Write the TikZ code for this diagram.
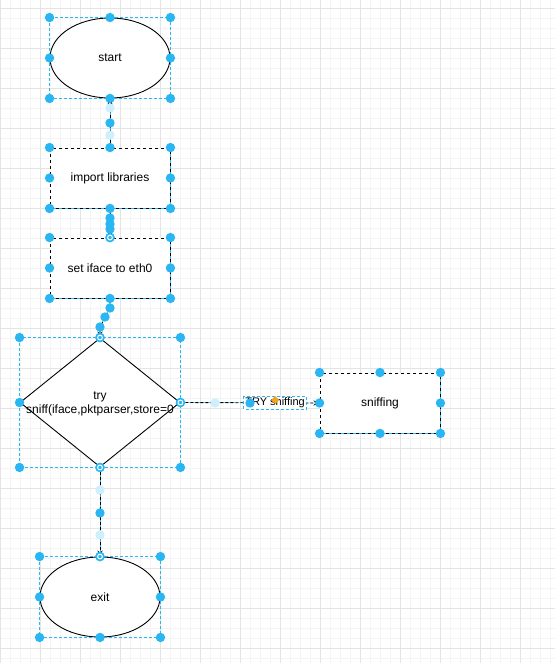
\documentclass[tikz,border=0pt]{standalone}
\usepackage{fontspec}
\setmainfont{Liberation Sans}
\usetikzlibrary{shapes.geometric,arrows.meta}

\definecolor{selblue}{HTML}{29B6F2}
\definecolor{gridminor}{HTML}{F4F4F4}
\definecolor{gridmajor}{HTML}{E4E4E4}
\definecolor{labelmark}{HTML}{F7A21B}

\tikzset{
  term/.style={ellipse, draw=black, fill=white, line width=0.9pt, inner sep=0pt,
    minimum width=120pt, minimum height=80pt, font=\fontsize{12}{14}\selectfont},
  proc/.style={rectangle, draw=black, fill=white, line width=0.9pt, inner sep=0pt,
    minimum width=120pt, minimum height=60pt, dash pattern=on 3pt off 3pt,
    preaction={draw=selblue, solid}, font=\fontsize{12}{14}\selectfont},
  decision/.style={diamond, draw=black, fill=white, line width=0.9pt, inner sep=0pt,
    minimum width=160pt, minimum height=129pt},
  link/.style={draw=black, line width=0.9pt, dash pattern=on 3pt off 2pt,
    preaction={draw=selblue, solid}},
  edgelabel/.style={fill=white, inner sep=1pt, font=\fontsize{11}{13}\selectfont},
  selbox/.style={draw=selblue, line width=0.8pt, dash pattern=on 3pt off 2pt},
  handle/.style={fill=selblue},
  ghost/.style={fill=selblue!22},
}

% blue handles round a selected shape
\newcommand{\selhandles}[1]{%
  \foreach \v in {north,south}{\foreach \h in {west,east}{\fill[handle] (#1.\v -| #1.\h) circle (4.7pt);}}
  \foreach \s in {north,south,east,west}{\fill[handle] (#1.\s) circle (4.7pt);}
}
\newcommand{\ringdot}[1]{%
  \fill[handle] #1 circle (4.7pt);
  \draw[white, line width=1pt] #1 circle (2.4pt);
}

\begin{document}
\begin{tikzpicture}[x=1pt, y=-1pt]

    \useasboundingbox (0,0) rectangle (555,663);

    % grid
    \foreach \x in {0,10,...,550} \draw[gridminor, line width=0.8pt] (\x,0) -- (\x,663);
    \foreach \y in {8,18,...,658} \draw[gridminor, line width=0.8pt] (0,\y) -- (555,\y);
    \foreach \x in {0,40,...,520} \draw[gridmajor, line width=0.8pt] (\x,0) -- (\x,663);
    \foreach \y in {8,48,...,648} \draw[gridmajor, line width=0.8pt] (0,\y) -- (555,\y);

    % shapes
    \node[term] (start) at (110,58) {start};
    \node[proc] (imp) at (110,178) {import libraries};
    \node[proc] (iface) at (110,268) {set iface to eth0};
    \node[decision] (try) at (100,402.5) {};
    \node[align=center, inner sep=0pt, font=\fontsize{12}{14}\selectfont] (trytext) at (100,404) {try\\sniff(iface,pktparser,store=0};
    \node[proc] (sniff) at (380,403) {sniffing};
    \node[term] (exit) at (100,597) {exit};

    % connectors
    \draw[link, -{Stealth[length=6pt,width=5pt]}] (imp.north) -- (start.south);
    \draw[link, -{Stealth[length=6pt,width=5pt]}] (imp.south) -- (iface.north);
    \draw[link, -{Stealth[length=6pt,width=5pt]}] (iface.south) -- ++(0,9) -- ++(-10,20) -- (try.north);
    \draw[link, -{Stealth[length=6pt,width=5pt]}] (try.east) -- (sniff.west)
        node[edgelabel, pos=0.68] (trylbl) {TRY sniffing};
    \draw[link, -{Stealth[length=6pt,width=5pt]}] (try.south) -- (exit.north);

    % selection boxes
    \draw[selbox] (start.north -| start.west) rectangle (start.south -| start.east);
    \draw[selbox] (try.north -| try.west) rectangle (try.south -| try.east);
    \draw[selbox] (exit.north -| exit.west) rectangle (exit.south -| exit.east);
    \draw[selbox] (trylbl.north west) rectangle (trylbl.south east);

    % handles
    \selhandles{start}
    \selhandles{imp}
    \selhandles{iface}
    \selhandles{try}
    \selhandles{sniff}
    \selhandles{exit}
    \ringdot{(iface.north)}
    \ringdot{(try.north)}
    \ringdot{(try.south)}
    \ringdot{(try.east)}
    \ringdot{(exit.north)}

    % edge handles
    \fill[ghost] (110,108) circle (4.7pt);
    \fill[handle] (110,123) circle (4.7pt);
    \fill[ghost] (110,135) circle (4.7pt);
    \foreach \y in {218,224,229} \fill[handle] (110,\y) circle (4.7pt);
    \fill[handle] (110,308) circle (4.7pt);
    \fill[handle] (105,317) circle (4.7pt);
    \fill[handle] (100,327) circle (4.7pt);
    \fill[ghost] (215,403) circle (4.7pt);
    \fill[handle] (250,403) circle (4.7pt);
    \fill[labelmark] (275,396) -- (279,400) -- (275,404) -- (271,400) -- cycle;
    \fill[ghost] (100,490) circle (4.7pt);
    \fill[handle] (100,513) circle (4.7pt);
    \fill[ghost] (100,535) circle (4.7pt);

\end{tikzpicture}
\end{document}
